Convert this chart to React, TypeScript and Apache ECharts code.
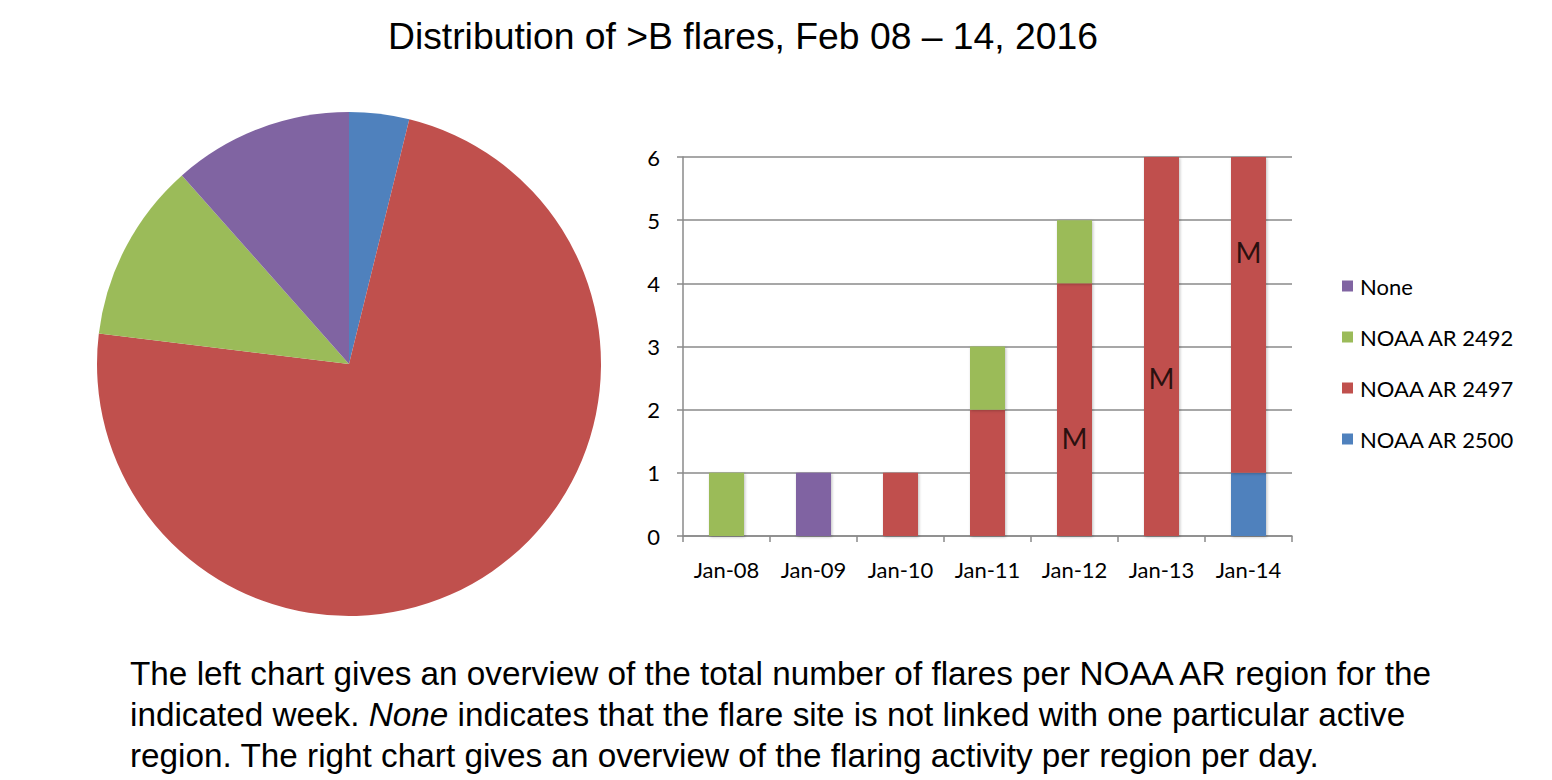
import React, { useEffect, useRef } from "react";
import * as echarts from "echarts";

const categories = ["Jan-08", "Jan-09", "Jan-10", "Jan-11", "Jan-12", "Jan-13", "Jan-14"];
const seriesNames = ["NOAA AR 2500", "NOAA AR 2497", "NOAA AR 2492", "None"];
const seriesColors = ["#4F81BD", "#C0504D", "#9BBB59", "#8064A2"];
const ar2500 = [0, 0, 0, 0, 0, 0, 1];
const ar2497 = [0, 0, 1, 2, 4, 6, 5];
const ar2492 = [1, 0, 0, 1, 1, 0, 0];
const none = [0, 1, 0, 0, 0, 0, 0];
const pieValues = [1, 19, 3, 3];
const mLabels: [number, number][] = [
  [4, 1.55],
  [5, 2.5],
  [6, 4.5],
];
const yTicks = [0, 1, 2, 3, 4, 5, 6];

const titleText = "Distribution of >B flares, Feb 08 \u2013 14, 2016";
const captionLines = [
  "The left chart gives an overview of the total number of flares per NOAA AR region for the",
  "indicated week. {i|None} indicates that the flare site is not linked with one particular active",
  "region. The right chart gives an overview of the flaring activity per region per day.",
];

export default function App() {
  const ref = useRef<HTMLDivElement>(null);
  useEffect(() => {
    document.body.style.margin = "0";
    const chart = echarts.init(ref.current!, undefined, { renderer: "svg" });
    const barData = [ar2500, ar2497, ar2492, none];
    const axisFont = "Lato, 'Open Sans', sans-serif";
    const textFont = "'Liberation Sans', Arial, sans-serif";
    chart.setOption({
      animation: false,
      backgroundColor: "#ffffff",
      legend: {
        orient: "vertical",
        left: 1337,
        top: 270,
        itemWidth: 11,
        itemHeight: 11,
        itemGap: 29,
        icon: "rect",
        data: ["None", "NOAA AR 2492", "NOAA AR 2497", "NOAA AR 2500"],
        textStyle: { fontFamily: axisFont, fontSize: 22, color: "#000", padding: [0, 0, 0, 2] },
      },
      grid: { left: 683, right: 260, top: 157, bottom: 244, containLabel: false },
      xAxis: {
        type: "category",
        data: categories,
        axisLine: { lineStyle: { color: "#8a8a8a", width: 1.5 } },
        axisTick: { show: true, length: 6, lineStyle: { color: "#8a8a8a", width: 1.5 } },
        axisLabel: { fontFamily: axisFont, fontSize: 22, color: "#000", margin: 22 },
      },
      yAxis: {
        type: "value",
        min: 0,
        max: 6,
        interval: 1,
        axisLine: { show: true, lineStyle: { color: "#8a8a8a", width: 1.5 } },
        axisTick: { show: true, length: 6, lineStyle: { color: "#8a8a8a", width: 1.5 } },
        splitLine: { lineStyle: { color: "#8a8a8a", width: 1.5 } },
        axisLabel: {
          fontFamily: axisFont,
          fontSize: 22,
          color: "#000",
          margin: 23,
          formatter: (v: number) => (yTicks.includes(v) ? String(v) : ""),
        },
      },
      series: [
        ...barData.map((d, i) => ({
          name: seriesNames[i],
          type: "bar",
          stack: "total",
          data: d,
          barWidth: 35,
          itemStyle: {
            color: seriesColors[i],
            shadowColor: "rgba(0,0,0,0.25)",
            shadowBlur: 3,
            shadowOffsetX: 1,
            shadowOffsetY: 1,
          },
        })),
        {
          type: "scatter",
          name: "M",
          data: mLabels,
          symbolSize: 0,
          silent: true,
          label: {
            show: true,
            position: "inside",
            formatter: "M",
            fontFamily: axisFont,
            fontSize: 28,
            color: "#000",
          },
        },
        {
          type: "pie",
          center: [349, 364],
          radius: 252,
          startAngle: 90,
          clockwise: true,
          label: { show: false },
          labelLine: { show: false },
          silent: true,
          data: pieValues.map((v, i) => ({
            name: seriesNames[i],
            value: v,
            itemStyle: { color: seriesColors[i] },
          })),
        },
      ],
      graphic: [
        {
          type: "text",
          x: 743,
          y: 36,
          style: {
            text: titleText,
            fontFamily: textFont,
            fontSize: 37.3,
            fill: "#000",
            align: "center",
            verticalAlign: "middle",
          },
        },
        ...captionLines.map((line, i) => ({
          type: "text",
          x: 130,
          y: 673 + i * 41,
          style: {
            text: line,
            fontFamily: textFont,
            fontSize: 33.3,
            fill: "#000",
            align: "left",
            verticalAlign: "middle",
            rich: {
              i: {
                fontFamily: textFont,
                fontSize: 33.3,
                fontStyle: "italic",
                fill: "#000",
              },
            },
          },
        })),
      ],
    });
    return () => chart.dispose();
  }, []);
  return <div ref={ref} style={{ width: 1552, height: 780 }} />;
}
